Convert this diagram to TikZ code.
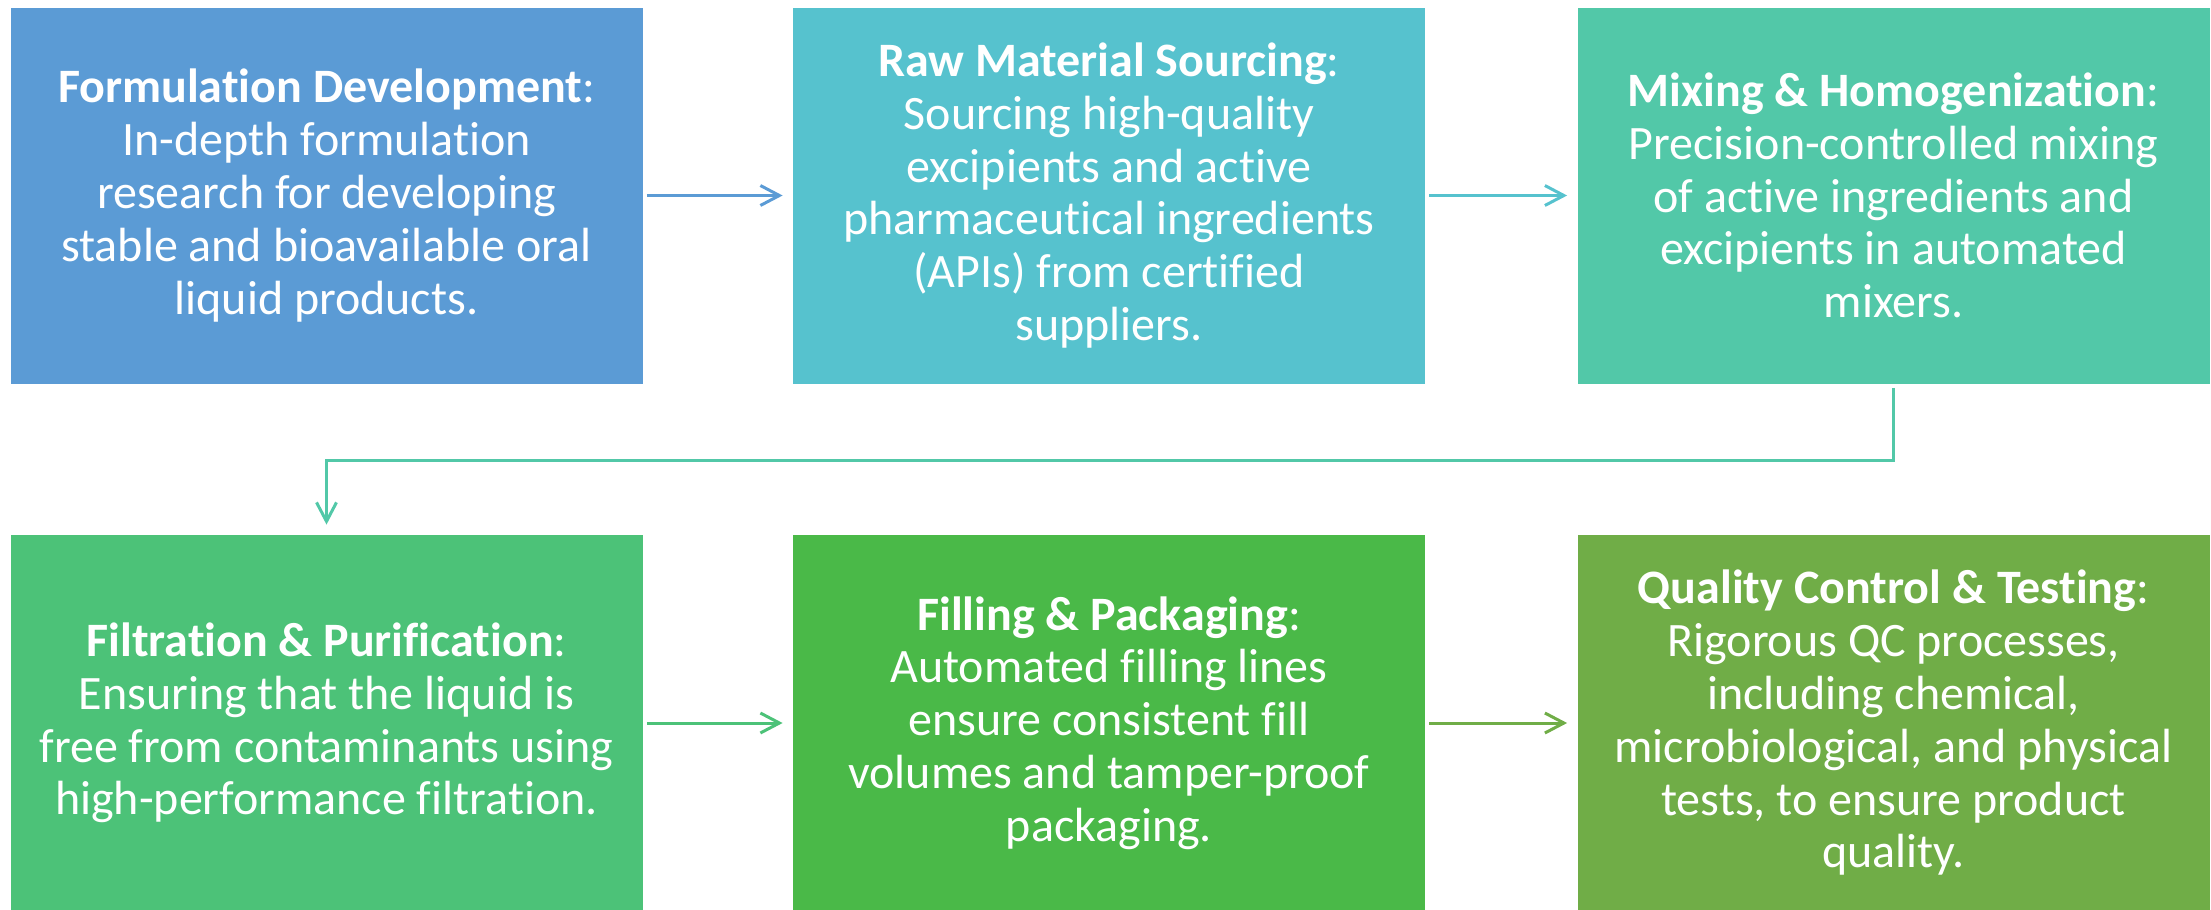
\documentclass[tikz,border=0pt]{standalone}
\usepackage{fontspec}
\setmainfont{Carlito}[Ligatures={NoCommon}]
\usetikzlibrary{arrows.meta}
\definecolor{c1}{HTML}{5B9BD5}
\definecolor{c2}{HTML}{56C2CE}
\definecolor{c3}{HTML}{52C8A8}
\definecolor{c4}{HTML}{4CC278}
\definecolor{c5}{HTML}{4AB948}
\definecolor{c6}{HTML}{70AD47}
\tikzset{
  stepbox/.style={fill=#1, draw=none, text=white, align=center,
    minimum width=316pt, minimum height=188pt, inner sep=0pt,
    font=\fontsize{24}{26.4}\selectfont},
  flow/.style={draw=#1, line width=1.5pt,
    -{Straight Barb[length=9.5pt,width=10pt,line width=1.5pt]},
    shorten <=2pt, shorten >=5pt},
}
\begin{document}
\begin{tikzpicture}[x=0.5pt,y=-0.5pt]
\useasboundingbox (0,0) rectangle (2211,910);
\node[stepbox=c1] (b1) at (326.5,195.5) {\textbf{Formulation Development}:\\In-depth formulation\\research for developing\\stable and bioavailable oral\\liquid products.};
\node[stepbox=c2] (b2) at (1109,195.5) {\textbf{Raw Material Sourcing}:\\Sourcing high-quality\\excipients and active\\pharmaceutical ingredients\\(APIs) from certified\\suppliers.};
\node[stepbox=c3] (b3) at (1893.5,195.5) {\textbf{Mixing \& Homogenization}:\\Precision-controlled mixing\\of active ingredients and\\excipients in automated\\mixers.};
\node[stepbox=c4] (b4) at (326.5,723) {\textbf{Filtration \& Purification}:\\Ensuring that the liquid is\\free from contaminants using\\high-performance filtration.};
\node[stepbox=c5] (b5) at (1109,723) {\textbf{Filling \& Packaging}:\\Automated filling lines\\ensure consistent fill\\volumes and tamper-proof\\packaging.};
\node[stepbox=c6] (b6) at (1893.5,723) {\textbf{Quality Control \& Testing}:\\Rigorous QC processes,\\including chemical,\\microbiological, and physical\\tests, to ensure product\\quality.};
\coordinate (m) at (0,460);
\draw[flow=c1] (b1) -- (b2);
\draw[flow=c2] (b2) -- (b3);
\draw[flow=c3] (b3.south) -- (b3.south |- m) -| (b4.north);
\draw[flow=c4] (b4) -- (b5);
\draw[flow=c6] (b5) -- (b6);
\end{tikzpicture}
\end{document}
